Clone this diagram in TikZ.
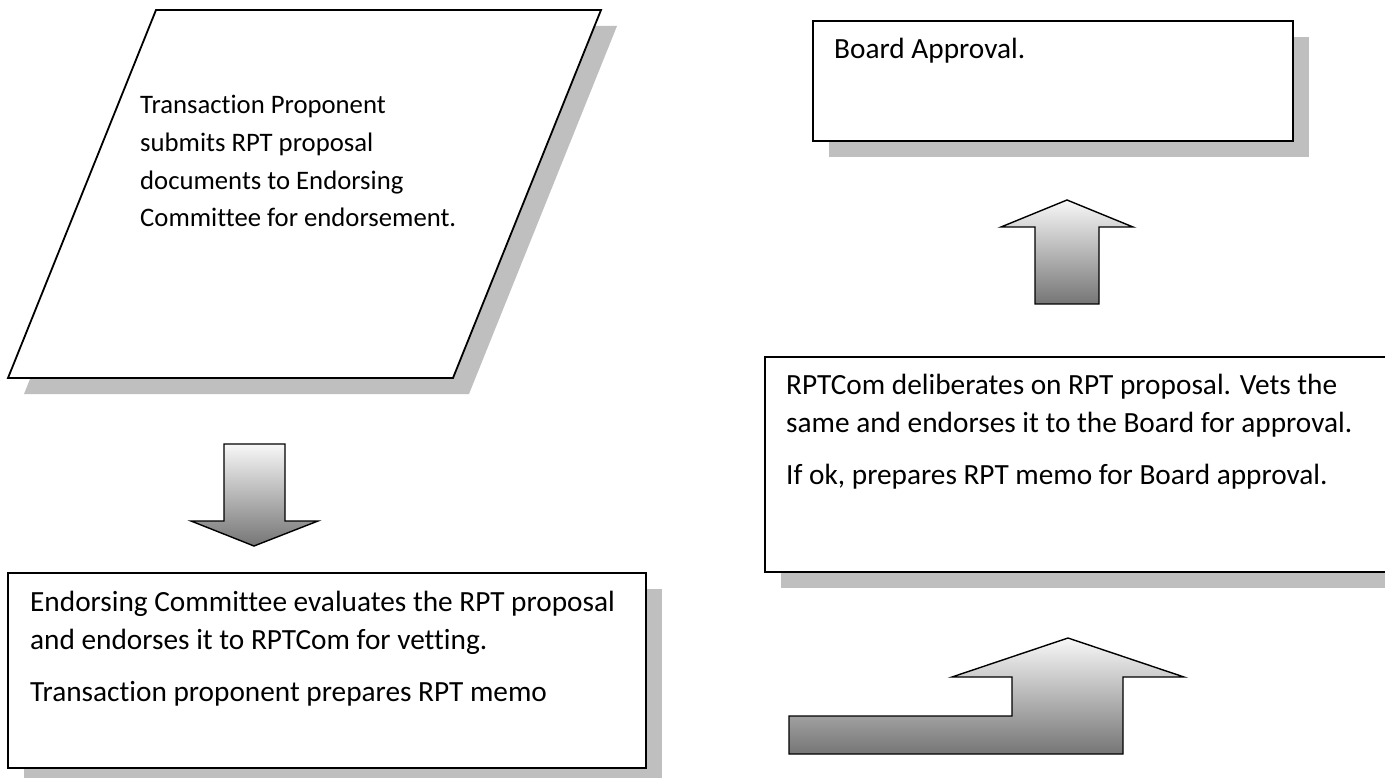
\documentclass[tikz,border=0pt]{standalone}
\usepackage{fontspec}
\setmainfont{Carlito}[Ligatures=CommonOff]
\definecolor{shadowgray}{HTML}{BFBFBF}
\begin{document}
\begin{tikzpicture}[x=1pt,y=-1pt,
  shadowfill/.style={fill=shadowgray, draw=none},
  boxshape/.style={fill=white, draw=black, line width=1.8pt, line join=miter},
  blockarrow/.style={draw=black, line width=1.4pt, top color=white!97!black, bottom color=black!54, line join=miter},
  txt/.style={anchor=base west, inner sep=0pt, font=\fontsize{29.3}{38}\selectfont},
  ptxt/.style={anchor=base west, inner sep=0pt, font=\fontsize{26.7}{37}\selectfont}]
\useasboundingbox (0,0) rectangle (1385,778);
\clip (0,0) rectangle (1385,778);
\fill[white] (0,0) rectangle (1385,778);

% ---- parallelogram (start)
\fill[shadowfill] (172,26) -- (617,26) -- (469,394) -- (24,394) -- cycle;
\draw[boxshape] (156,10) -- (601,10) -- (453,378) -- (8,378) -- cycle;
\node[ptxt] (p1) at (140,114) {Transaction Proponent};
\node[ptxt] (p2) at (140,152) {submits RPT proposal};
\node[ptxt] (p3) at (140,190) {documents to Endorsing};
\node[ptxt] (p4) at (140,227) {Committee for endorsement.};

% ---- down arrow
\draw[blockarrow] (224,444) -- (285,444) -- (285,521) -- (318,521) -- (254,546)
  -- (191,521) -- (224,521) -- cycle;

% ---- lower-left box
\fill[shadowfill] (24,589) rectangle (662,784);
\draw[boxshape] (8,573) rectangle (646,768);
\node[txt] (e1) at (30,611) {Endorsing Committee evaluates the RPT proposal};
\node[txt] (e2) at (30,649) {and endorses it to RPTCom for vetting.};
\node[txt] (e3) at (30,701) {Transaction proponent prepares RPT memo};

% ---- board approval box
\fill[shadowfill] (829,37) rectangle (1309,157);
\draw[boxshape] (813,21) rectangle (1293,141);
\node[txt] (b1) at (834,59) {Board Approval.};

% ---- up arrow
\draw[blockarrow] (1035,304) -- (1035,227) -- (1001,227) -- (1067,200) -- (1133,227)
  -- (1099,227) -- (1099,304) -- cycle;

% ---- RPTCom box
\fill[shadowfill] (781,373) rectangle (1420,588);
\draw[boxshape] (765,357) rectangle (1404,572);
\node[txt] (r1) at (786,394) {RPTCom deliberates on RPT proposal. Vets the};
\node[txt] (r2) at (786,432) {same and endorses it to the Board for approval.};
\node[txt] (r3) at (786,484) {If ok, prepares RPT memo for Board approval.};

% ---- bent up arrow
\draw[blockarrow] (789,716) -- (1012,716) -- (1012,677) -- (952,677) -- (1068,638)
  -- (1184,677) -- (1123,677) -- (1123,754) -- (789,754) -- cycle;
\end{tikzpicture}
\end{document}
